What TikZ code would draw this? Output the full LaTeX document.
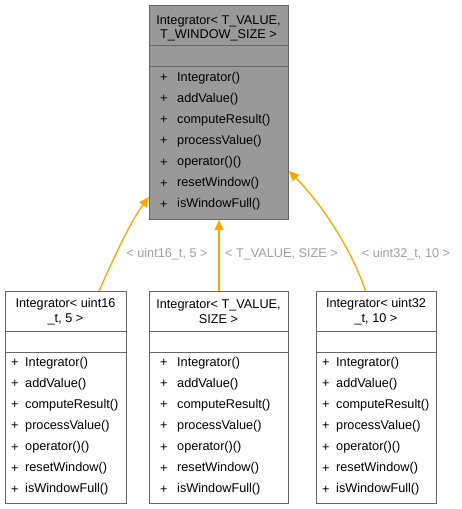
\documentclass[tikz,border=0pt]{standalone}
\usepackage{fontspec}
\setmainfont{Liberation Sans}
\usetikzlibrary{arrows.meta}
\definecolor{edgeorange}{HTML}{FFA500}
\definecolor{basefill}{HTML}{999999}
\definecolor{boxline}{HTML}{666666}
\definecolor{labelgray}{HTML}{A0A0A0}
\begin{document}
\begin{tikzpicture}[x=1pt,y=-1pt,
  box/.style={draw=boxline, line width=1pt, inner sep=0, anchor=north west},
  sep/.style={draw=boxline, line width=1pt},
  txt/.style={font=\fontsize{12.7}{14.5}\selectfont, inner sep=0, text=black},
  lbl/.style={font=\fontsize{12.7}{14.5}\selectfont, inner sep=0, text=labelgray},
  inh/.style={draw=edgeorange, line width=1.3pt, -{Triangle[length=10pt,width=9pt,fill=edgeorange]}}]
\useasboundingbox (0,0) rectangle (462,509);
% boxes
\node[box, fill=basefill, minimum width=139pt, minimum height=214pt] (base) at (149,5) {};
\node[box, fill=white, minimum width=121pt, minimum height=212pt] (lft) at (5,291) {};
\node[box, fill=white, minimum width=139pt, minimum height=212pt] (mid) at (149,291) {};
\node[box, fill=white, minimum width=120pt, minimum height=212pt] (rgt) at (316,291) {};
% separators
\foreach \b/\ya/\yb in {base/45/66, lft/331/352, mid/331/352, rgt/331/352}{
  \draw[sep] (\b.west |- 0,\ya) -- (\b.east |- 0,\ya);
  \draw[sep] (\b.west |- 0,\yb) -- (\b.east |- 0,\yb);
}
% titles
\node[txt, align=center] (baset) at (218.5,28.5) {Integrator< T\_VALUE,\\ T\_WINDOW\_SIZE >};
\node[txt, align=center] (lftt) at (65.5,311.5) {Integrator< uint16\\\_t, 5 >};
\node[txt, align=center] (midt) at (218.5,311.5) {Integrator< T\_VALUE,\\SIZE >};
\node[txt, align=center] (rgtt) at (376,311.5) {Integrator< uint32\\\_t, 10 >};
% methods
\foreach \m [count=\i from 0] in {Integrator(), addValue(), computeResult(), processValue(), operator()(), resetWindow(), isWindowFull()}{
  \node[txt, anchor=west] (tp\i) at (160,78+21.1*\i) {+};
  \node[txt, anchor=west] (tm\i) at (177,78+21.1*\i) {\m};
  \node[txt, anchor=west] (lp\i) at (11,363+21.1*\i) {+};
  \node[txt, anchor=west] (lm\i) at (25,363+21.1*\i) {\m};
  \node[txt, anchor=west] (mp\i) at (160,363+21.1*\i) {+};
  \node[txt, anchor=west] (mm\i) at (177,363+21.1*\i) {\m};
  \node[txt, anchor=west] (rp\i) at (322,363+21.1*\i) {+};
  \node[txt, anchor=west] (rm\i) at (336,363+21.1*\i) {\m};
}
% edges
\draw[inh] ([xshift=33pt]lft.north) .. controls (112,262) and (130,222) .. ([yshift=23pt]base.south west);
\draw[inh] (mid.north) -- (base.south);
\draw[inh] ([xshift=-11pt]rgt.north) .. controls (350,245) and (318,200) .. ([yshift=49pt]base.south east);
% labels
\node[lbl] (l1) at (167,254) {< uint16\_t, 5 >};
\node[lbl] (l2) at (281.5,254) {< T\_VALUE, SIZE >};
\node[lbl] (l3) at (406,254) {< uint32\_t, 10 >};
\end{tikzpicture}
\end{document}
